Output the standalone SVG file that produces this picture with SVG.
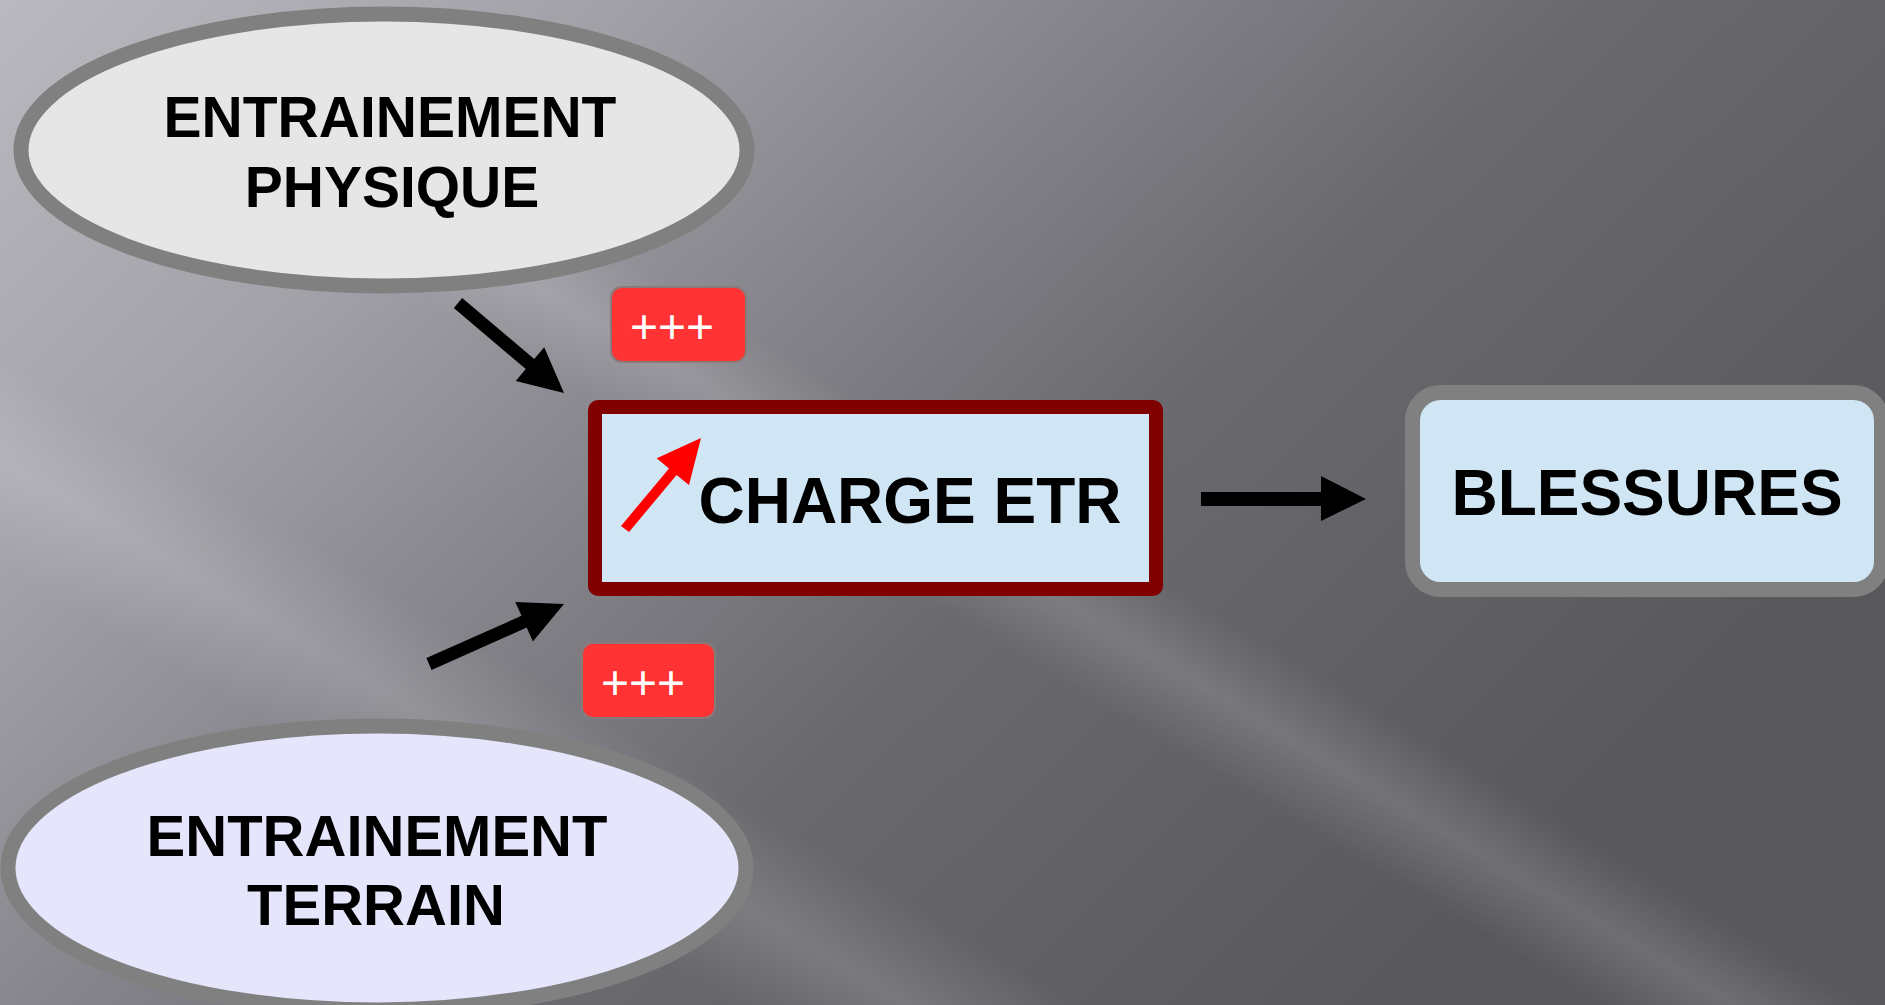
<svg xmlns="http://www.w3.org/2000/svg" width="1885" height="1005" viewBox="0 0 1885 1005">
<defs>
<linearGradient id="bg" x1="0" y1="0" x2="1" y2="0.55">
<stop offset="0" stop-color="#bbb9c0"/>
<stop offset="0.25" stop-color="#a3a1a8"/>
<stop offset="0.45" stop-color="#86848b"/>
<stop offset="0.65" stop-color="#6a696e"/>
<stop offset="1" stop-color="#58575c"/>
</linearGradient>
<linearGradient id="band" x1="0" y1="0" x2="0" y2="1">
<stop offset="0" stop-color="#ffffff" stop-opacity="0"/>
<stop offset="0.5" stop-color="#ffffff" stop-opacity="0.14"/>
<stop offset="1" stop-color="#ffffff" stop-opacity="0"/>
</linearGradient>
<style>
.lbl{font-family:"Liberation Sans",Arial,sans-serif;font-weight:bold;fill:#000;text-anchor:middle}
.plus{font-family:"Liberation Sans",Arial,sans-serif;font-size:48px;fill:#fff;text-anchor:middle}
.badge{fill:#ff3333;stroke:#8a7a7a;stroke-width:2}
.conn{fill:#000}
</style>
</defs>
<rect x="0" y="0" width="1885" height="1005" fill="url(#bg)"/>
<rect x="-300" y="-70" width="2200" height="140" fill="url(#band)" transform="translate(560,300) rotate(31)"/>
<rect x="-300" y="-90" width="2200" height="180" fill="url(#band)" transform="translate(100,520) rotate(31)"/>

<g id="entrainement-physique">
<ellipse cx="384" cy="150" rx="363" ry="136" fill="#e6e6e6" stroke="#808080" stroke-width="15"/>
<text class="lbl" x="390" y="137" font-size="57">ENTRAINEMENT</text>
<text class="lbl" x="392" y="207" font-size="57">PHYSIQUE</text>
</g>

<g id="entrainement-terrain">
<ellipse cx="377" cy="868" rx="369" ry="142" fill="#e5e5fb" stroke="#808080" stroke-width="15"/>
<text class="lbl" x="377" y="856" font-size="58">ENTRAINEMENT</text>
<text class="lbl" x="376" y="925" font-size="58">TERRAIN</text>
</g>

<g id="charge-etr">
<rect x="595" y="407" width="561" height="182" rx="3" fill="#d0e6f4" stroke="#800000" stroke-width="14"/>
<polygon points="621,526 669,468.5 656.7,458.2 701,438 689,485 676.6,475 629,532" fill="#ff0000"/>
<text class="lbl" x="910" y="523" font-size="64">CHARGE ETR</text>
</g>

<g id="blessures">
<rect x="1412.5" y="392.5" width="469" height="197" rx="28" fill="#d0e6f4" stroke="#808080" stroke-width="15"/>
<text class="lbl" x="1647" y="515" font-size="64">BLESSURES</text>
</g>

<g id="badge-top">
<rect class="badge" x="611" y="287" width="135" height="75" rx="11"/>
<text class="plus" x="672" y="343">+++</text>
</g>

<g id="badge-bottom">
<rect class="badge" x="582" y="643" width="133" height="75" rx="11"/>
<text class="plus" x="643" y="699">+++</text>
</g>

<g id="connectors">
<polygon class="conn" points="453.8,308 525.8,369.1 515.8,380.9 564,393 544.2,347.3 534.2,359.1 462.2,298"/>
<polygon class="conn" points="426.4,658.1 521.5,615.8 515.3,601.9 564,604 532.9,641.5 526.7,627.6 431.6,669.9"/>
<polygon class="conn" points="1201,492 1321,492 1321,476 1366,499 1321,521 1321,506 1201,506"/>
</g>
</svg>
